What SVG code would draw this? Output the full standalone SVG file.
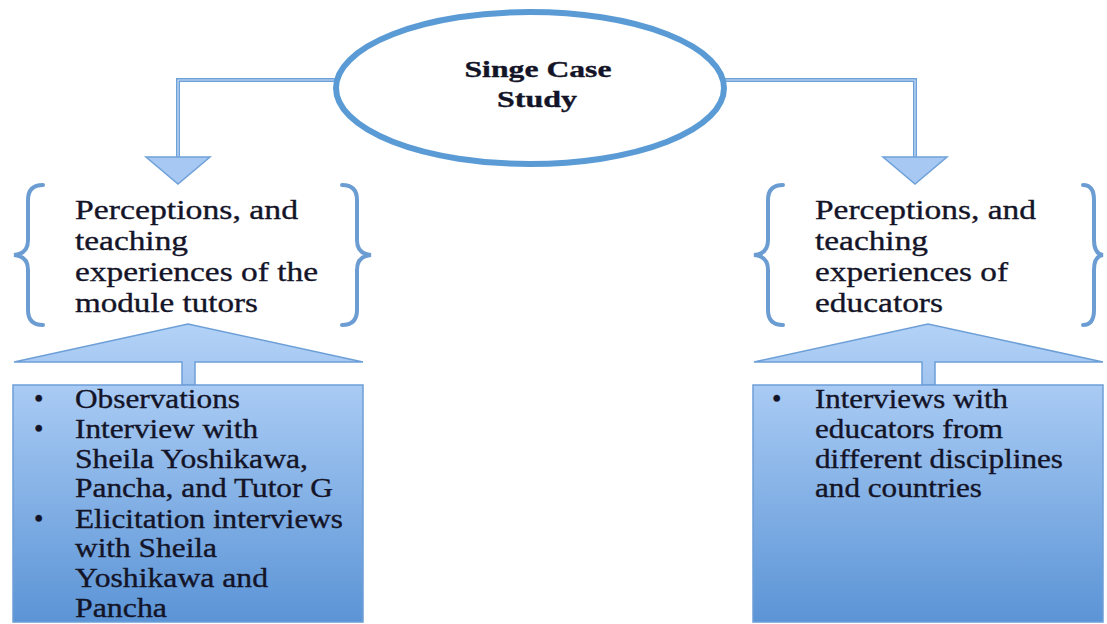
<svg xmlns="http://www.w3.org/2000/svg" width="1107" height="624" viewBox="0 0 1107 624" font-family="'Liberation Serif', 'Times New Roman', serif">
<defs>
<linearGradient id="boxg" x1="0" y1="0" x2="0" y2="1">
<stop offset="0" stop-color="#a9cbf4"/>
<stop offset="1" stop-color="#5b94d6"/>
</linearGradient>
<linearGradient id="roofg" x1="0" y1="0" x2="0" y2="1">
<stop offset="0" stop-color="#b3d2f7"/>
<stop offset="1" stop-color="#a1c4ef"/>
</linearGradient>
</defs>
<style>
text{fill:#141428;stroke:#141428;stroke-width:0.35}
.t{font-size:28px}
.b{font-size:27px}
.h{font-size:24px;font-weight:bold}
.brace{fill:none;stroke:#6c9dd2;stroke-width:4;stroke-linecap:round}
.conn{fill:none;stroke:#6fa1d9;stroke-width:4}
.conn-in{fill:none;stroke:#c9def8;stroke-width:1.2}
.head{fill:#a6c8f2;stroke:#6fa1d9;stroke-width:1.5}
.roof{fill:url(#roofg);stroke:#6d9fd7;stroke-width:1.5}
.box{fill:url(#boxg);stroke:#6d9fd7;stroke-width:1.5}
</style>
<rect width="1107" height="624" fill="#ffffff"/>
<g id="connectors">
<polyline class="conn" points="336,80 178,80 178,158"/>
<polyline class="conn-in" points="336,80 178,80 178,158"/>
<polygon class="head" points="146,157 210,157 178,184"/>
<polyline class="conn" points="724,80 915,80 915,158"/>
<polyline class="conn-in" points="724,80 915,80 915,158"/>
<polygon class="head" points="883,157 947,157 915,184"/>
</g>
<g id="root">
<ellipse cx="530" cy="88" rx="194" ry="76" fill="#ffffff" stroke="#5b9bd5" stroke-width="6"/>
<text class="h" x="538" y="77" text-anchor="middle" textLength="147" lengthAdjust="spacingAndGlyphs">Singe Case</text>
<text class="h" x="537" y="107" text-anchor="middle" textLength="80" lengthAdjust="spacingAndGlyphs">Study</text>
</g>
<g id="left-perceptions">
<path class="brace" d="M43,185 Q28,185 28,200 L28,240 Q28,254 14,255 Q28,256 28,270 L28,310 Q28,325 43,325"/>
<path class="brace" d="M342,185 Q357,185 357,200 L357,240 Q357,254 371,255 Q357,256 357,270 L357,310 Q357,325 342,325"/>
<text class="t" x="75" y="219" textLength="223" lengthAdjust="spacingAndGlyphs">Perceptions, and</text>
<text class="t" x="75" y="250" textLength="113" lengthAdjust="spacingAndGlyphs">teaching</text>
<text class="t" x="75" y="281" textLength="243" lengthAdjust="spacingAndGlyphs">experiences of the</text>
<text class="t" x="75" y="312" textLength="183" lengthAdjust="spacingAndGlyphs">module tutors</text>
</g>
<g id="right-perceptions">
<path class="brace" d="M783,185 Q768,185 768,200 L768,240 Q768,254 754,255 Q768,256 768,270 L768,310 Q768,325 783,325"/>
<path class="brace" d="M1083,185 Q1094,185 1094,200 L1094,240 Q1094,254 1103,255 Q1094,256 1094,270 L1094,310 Q1094,325 1083,325"/>
<text class="t" x="815" y="219" textLength="221" lengthAdjust="spacingAndGlyphs">Perceptions, and</text>
<text class="t" x="815" y="250" textLength="113" lengthAdjust="spacingAndGlyphs">teaching</text>
<text class="t" x="815" y="281" textLength="193" lengthAdjust="spacingAndGlyphs">experiences of</text>
<text class="t" x="815" y="312" textLength="128" lengthAdjust="spacingAndGlyphs">educators</text>
</g>
<g id="left-methods">
<path class="roof" d="M14,362 L188,324 L363,362 L195,362 L195,385 L182,385 L182,362 Z"/>
<rect class="box" x="13" y="385" width="350" height="237"/>
<text class="b" x="34" y="408">•</text>
<text class="b" x="75" y="408" textLength="165" lengthAdjust="spacingAndGlyphs">Observations</text>
<text class="b" x="34" y="438">•</text>
<text class="b" x="75" y="438" textLength="183" lengthAdjust="spacingAndGlyphs">Interview with</text>
<text class="b" x="75" y="468" textLength="233" lengthAdjust="spacingAndGlyphs">Sheila Yoshikawa,</text>
<text class="b" x="75" y="497" textLength="258" lengthAdjust="spacingAndGlyphs">Pancha, and Tutor G</text>
<text class="b" x="34" y="528">•</text>
<text class="b" x="75" y="528" textLength="268" lengthAdjust="spacingAndGlyphs">Elicitation interviews</text>
<text class="b" x="75" y="557" textLength="142" lengthAdjust="spacingAndGlyphs">with Sheila</text>
<text class="b" x="75" y="587" textLength="193" lengthAdjust="spacingAndGlyphs">Yoshikawa and</text>
<text class="b" x="75" y="617" textLength="92" lengthAdjust="spacingAndGlyphs">Pancha</text>
</g>
<g id="right-methods">
<path class="roof" d="M754,362 L928,324 L1103,362 L935,362 L935,385 L922,385 L922,362 Z"/>
<rect class="box" x="753" y="385" width="350" height="237"/>
<text class="b" x="772" y="408">•</text>
<text class="b" x="815" y="408" textLength="193" lengthAdjust="spacingAndGlyphs">Interviews with</text>
<text class="b" x="815" y="438" textLength="188" lengthAdjust="spacingAndGlyphs">educators from</text>
<text class="b" x="815" y="468" textLength="248" lengthAdjust="spacingAndGlyphs">different disciplines</text>
<text class="b" x="815" y="497" textLength="167" lengthAdjust="spacingAndGlyphs">and countries</text>
</g>
</svg>
